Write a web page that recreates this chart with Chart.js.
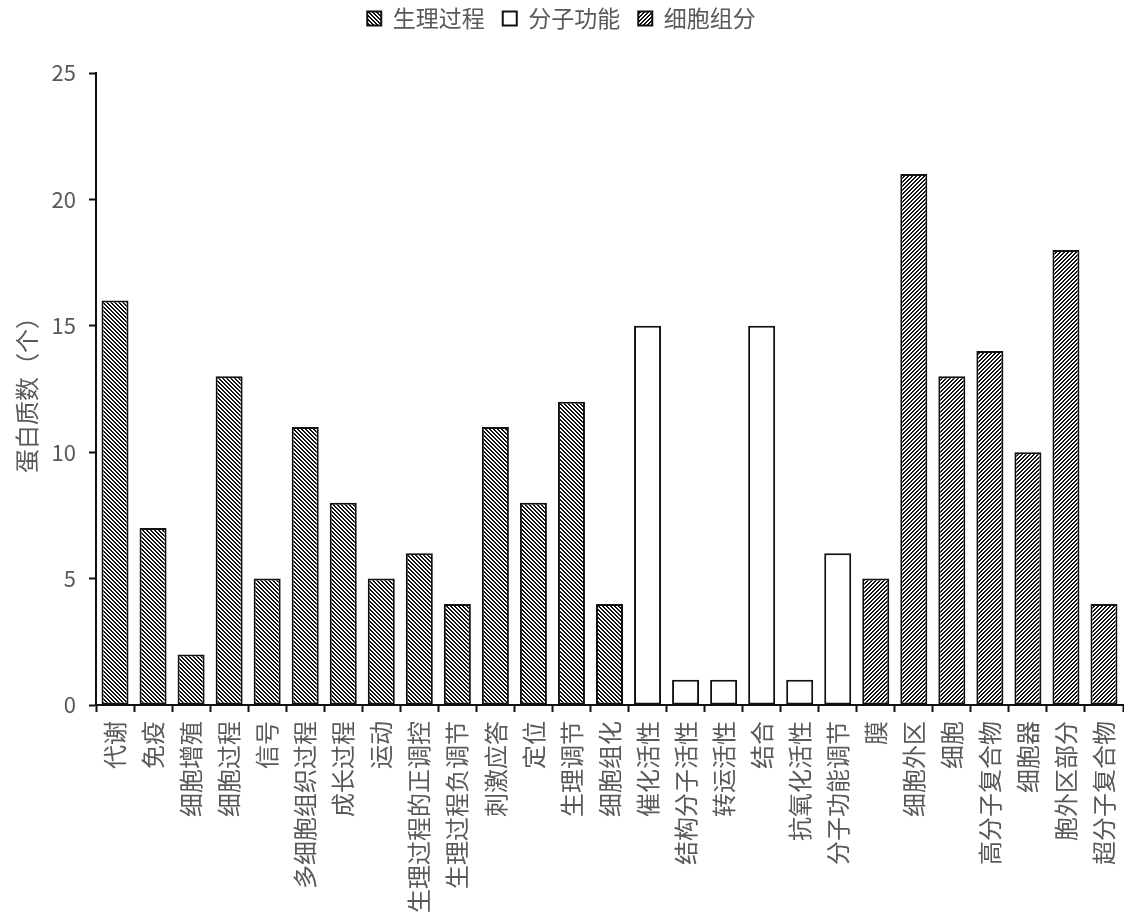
<!DOCTYPE html>
<html lang="zh-CN">
<head>
<meta charset="utf-8">
<title>蛋白质功能分类</title>
<script src="https://cdn.jsdelivr.net/npm/chart.js@4.4.1/dist/chart.umd.min.js"></script>
<style>
  html, body { margin: 0; padding: 0; background: #ffffff; }
  #wrap { width: 1124px; height: 913px; position: relative; }
</style>
</head>
<body>
<div id="wrap"><canvas id="chart" width="1124" height="913"></canvas></div>
<script>
// GO categories, in display order
const categories = [
  '代谢', '免疫', '细胞增殖', '细胞过程', '信号', '多细胞组织过程', '成长过程', '运动',
  '生理过程的正调控', '生理过程负调节', '刺激应答', '定位', '生理调节', '细胞组化',
  '催化活性', '结构分子活性', '转运活性', '结合', '抗氧化活性', '分子功能调节',
  '膜', '细胞外区', '细胞', '高分子复合物', '细胞器', '胞外区部分', '超分子复合物'
];

// protein counts per group (null where the category belongs to another group)
const biologicalProcess = [16, 7, 2, 13, 5, 11, 8, 5, 6, 4, 11, 8, 12, 4,
  null, null, null, null, null, null, null, null, null, null, null, null, null];
const molecularFunction = [null, null, null, null, null, null, null, null, null, null, null, null, null, null,
  15, 1, 1, 15, 1, 6, null, null, null, null, null, null, null];
const cellularComponent = [null, null, null, null, null, null, null, null, null, null, null, null, null, null,
  null, null, null, null, null, null, 5, 21, 13, 14, 10, 18, 4];

const seriesNames = ['生理过程', '分子功能', '细胞组分'];
const yTicks = [0, 5, 10, 15, 20, 25];
const yTitle = '蛋白质数（个）';

const FONT = '"Noto Sans CJK SC", "Noto Sans", sans-serif';
const TEXT_GREY = '#595959';

// diagonal hatch fill; dir = 1 for "\" stripes, -1 for "/" stripes
function hatch(dir) {
  const size = 4;
  const c = document.createElement('canvas');
  c.width = size; c.height = size;
  const g = c.getContext('2d');
  g.fillStyle = '#ffffff';
  g.fillRect(0, 0, size, size);
  g.fillStyle = '#111111';
  for (let y = 0; y < size; y++) {
    const x0 = dir > 0 ? y : (size - 1 - y);
    g.fillRect(x0 % size, y, 1, 1);
    g.fillRect((x0 + 1) % size, y, 1, 1);
  }
  return g.createPattern(c, 'repeat');
}

// extra space between the legend and the plot area
const legendGap = {
  id: 'legendGap',
  beforeInit(chart) {
    const fit = chart.legend.fit;
    chart.legend.fit = function () {
      fit.call(this);
      this.height += 33;
    };
  }
};

const ctx = document.getElementById('chart').getContext('2d');

const barCommon = {
  borderColor: '#111111',
  borderWidth: 2,
  barPercentage: 0.71,
  categoryPercentage: 1.0,
  grouped: false,
  borderSkipped: false
};

new Chart(ctx, {
  type: 'bar',
  data: {
    labels: categories,
    datasets: [
      Object.assign({ label: seriesNames[0], data: biologicalProcess, backgroundColor: hatch(1) }, barCommon),
      Object.assign({ label: seriesNames[1], data: molecularFunction, backgroundColor: '#ffffff' }, barCommon),
      Object.assign({ label: seriesNames[2], data: cellularComponent, backgroundColor: hatch(-1) }, barCommon)
    ]
  },
  plugins: [legendGap],
  options: {
    responsive: false,
    animation: false,
    layout: { padding: { top: -11, right: 1, bottom: 0, left: 0 } },
    plugins: {
      tooltip: { enabled: false },
      legend: {
        position: 'top',
        labels: {
          font: { family: FONT, size: 23 },
          color: TEXT_GREY,
          boxWidth: 14,
          boxHeight: 14,
          padding: 18
        }
      }
    },
    scales: {
      x: {
        offset: true,
        grid: {
          display: true,
          drawOnChartArea: false,
          drawTicks: true,
          tickLength: 7,
          tickColor: '#111111',
          tickWidth: 2,
          offset: true
        },
        border: { display: true, color: '#111111', width: 2 },
        ticks: {
          font: { family: FONT, size: 24 },
          color: TEXT_GREY,
          minRotation: 90,
          maxRotation: 90,
          autoSkip: false,
          padding: 9
        },
        afterFit(scale) {
          scale.height = 208;
          scale.paddingLeft = 0;
          scale.paddingRight = 0;
        }
      },
      y: {
        min: 0,
        max: 25,
        afterBuildTicks(scale) { scale.ticks = yTicks.map(v => ({ value: v })); },
        grid: {
          display: true,
          drawOnChartArea: false,
          drawTicks: true,
          tickLength: 7,
          tickColor: '#111111',
          tickWidth: 2
        },
        border: { display: true, color: '#111111', width: 2 },
        ticks: {
          font: { family: FONT, size: 22 },
          color: TEXT_GREY,
          padding: 13
        },
        title: {
          display: true,
          text: yTitle,
          font: { family: FONT, size: 24 },
          color: TEXT_GREY,
          padding: { top: 12, bottom: 0 }
        },
        afterFit(scale) { scale.width = 96; }
      }
    }
  }
});
</script>
</body>
</html>
